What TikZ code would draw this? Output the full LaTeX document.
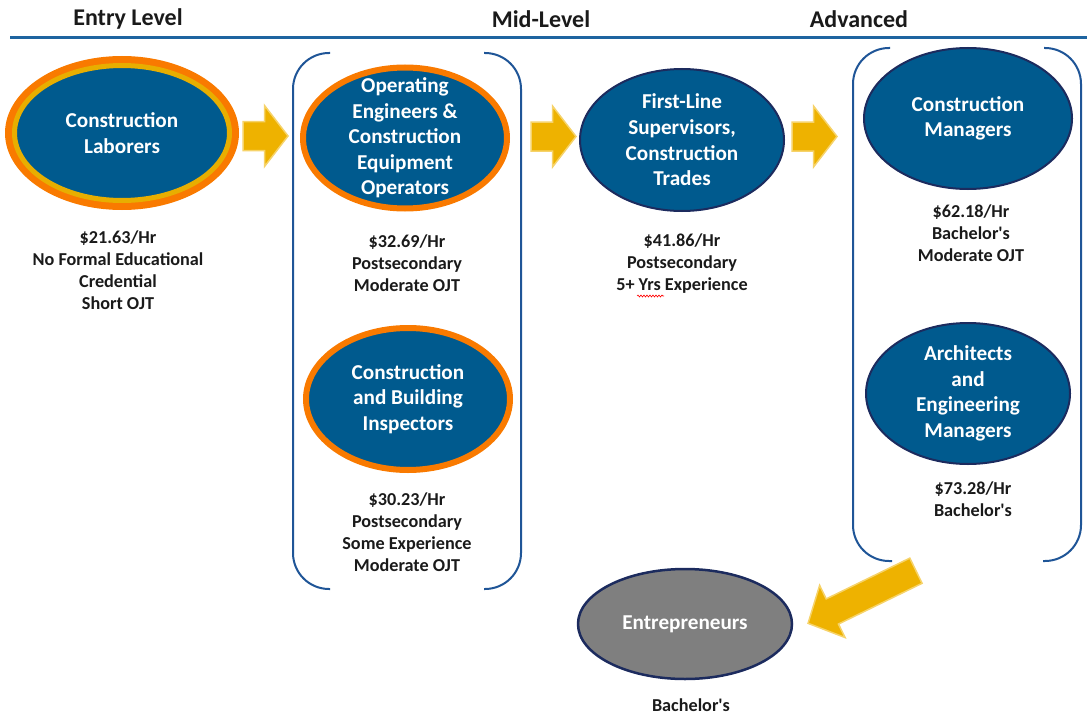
\documentclass[tikz,border=0pt]{standalone}
\usepackage{fontspec}
\setmainfont{Carlito}[Ligatures=TeXOff]
\usetikzlibrary{shapes.geometric,decorations.pathmorphing}
\definecolor{jblue}{HTML}{005A8E}
\definecolor{navy}{HTML}{1C2B5E}
\definecolor{rorange}{HTML}{F97A00}
\definecolor{rgold}{HTML}{E8AE00}
\definecolor{agold}{HTML}{EEB200}
\definecolor{alight}{HTML}{F6D36A}
\definecolor{brblue}{HTML}{1F5597}
\definecolor{lineblue}{HTML}{1E64A0}
\definecolor{egray}{HTML}{7F7F7F}
\definecolor{txt}{HTML}{1A1A1A}
\tikzset{
  job/.style={ellipse, fill=jblue, inner sep=0pt},
  orring/.style={draw=rorange, line width=6pt},
  navyline/.style={draw=navy, line width=2pt},
  etext/.style={text=white, font=\bfseries\fontsize{21.2}{25.6}\selectfont, align=center, inner sep=0pt},
  dtext/.style={text=txt, font=\bfseries\fontsize{18.2}{22}\selectfont, align=center, inner sep=0pt},
  htext/.style={text=txt, font=\bfseries\fontsize{24}{28}\selectfont, inner sep=0pt},
  bracket/.style={draw=brblue, line width=2pt, rounded corners=36pt},
  blockarrow/.style={fill=agold, draw=alight, line width=1.5pt, line join=miter},
  harrow/.pic={\draw[blockarrow] (-22.5,-14.5) -- (-1,-14.5) -- (-1,-30.5) -- (22.5,0) -- (-1,30.5) -- (-1,14.5) -- (-22.5,14.5) -- cycle;}
}
\begin{document}
\begin{tikzpicture}[x=1pt,y=-1pt]
\useasboundingbox (0,0) rectangle (1087,717);

% headers
\node[htext] (h1) at (128,19) {Entry Level};
\node[htext] (h2) at (541,19) {Mid-Level};
\node[htext] (h3) at (859,19) {Advanced};
\draw[lineblue, line width=3pt] (10,38) -- (1087,38);

% brackets
\draw[bracket] (330,53) -- (293,53) -- (293,589) -- (330,589);
\draw[bracket] (484,53) -- (521,53) -- (521,589) -- (484,589);
\draw[bracket] (890,48) -- (853,48) -- (853,561) -- (892,561);
\draw[bracket] (1044,48) -- (1081,48) -- (1081,561) -- (1043,561);

% entry level
\node[ellipse, fill=rorange, inner sep=0pt, minimum width=234, minimum height=154] (e1o) at (122,133) {};
\node[job, draw=rgold, line width=5pt, minimum width=215, minimum height=135,
      label={[etext]center:Construction\\Laborers}] (e1) at (122,133) {};
\node[dtext] (t1) at (118,270) {\$21.63/Hr\\No Formal Educational\\Credential\\Short OJT};

% mid level
\node[job, orring, minimum width=204, minimum height=141,
      label={[etext]center:Operating\\Engineers \&\\Construction\\Equipment\\Operators}] (e2) at (405,138) {};
\node[dtext] (t2) at (407,263.5) {\$32.69/Hr\\Postsecondary\\Moderate OJT};

\node[job, orring, minimum width=204, minimum height=142,
      label={[etext]center:Construction\\and Building\\Inspectors}] (e3) at (408,399) {};
\node[dtext] (t3) at (407,532.5) {\$30.23/Hr\\Postsecondary\\Some Experience\\Moderate OJT};

\node[job, navyline, minimum width=204, minimum height=142,
      label={[etext]center:First-Line\\Supervisors,\\Construction\\Trades}] (e4) at (682,140) {};
\node[dtext] (t4) at (682,264) {\$41.86/Hr\\Postsecondary\\5+ Yrs Experience};
\draw[red, line width=0.6pt, decorate, decoration={snake, amplitude=1pt, segment length=3pt}] (637,296) -- (664,296);

% advanced
\node[job, navyline, minimum width=208, minimum height=141,
      label={[etext]center:Construction\\Managers}] (e5) at (968,118.5) {};
\node[dtext] (t5) at (971,233.5) {\$62.18/Hr\\Bachelor's\\Moderate OJT};

\node[job, navyline, minimum width=204, minimum height=141,
      label={[etext]center:Architects\\and\\Engineering\\Managers}] (e6) at (968,393.5) {};
\node[dtext] (t6) at (973,499) {\$73.28/Hr\\Bachelor's};

% entrepreneurs
\node[ellipse, fill=egray, draw=navy, line width=2.5pt, inner sep=0pt, minimum width=214, minimum height=110,
      label={[etext]center:Entrepreneurs}] (e7) at (685,624) {};
\node[dtext] (t7) at (691,705) {Bachelor's};

% block arrows
\coordinate (a1) at (265.5,136);
\coordinate (a2) at (553.5,136.5);
\coordinate (a3) at (814.5,136.5);
\pic at (a1) {harrow};
\pic at (a2) {harrow};
\pic at (a3) {harrow};
\coordinate (a4) at (862,597);
\draw[blockarrow, shift={(a4)}, rotate=206] (-60,-14) -- (33,-14) -- (33,-29) -- (60,0) -- (33,29) -- (33,14) -- (-60,14) -- cycle;
\end{tikzpicture}
\end{document}
